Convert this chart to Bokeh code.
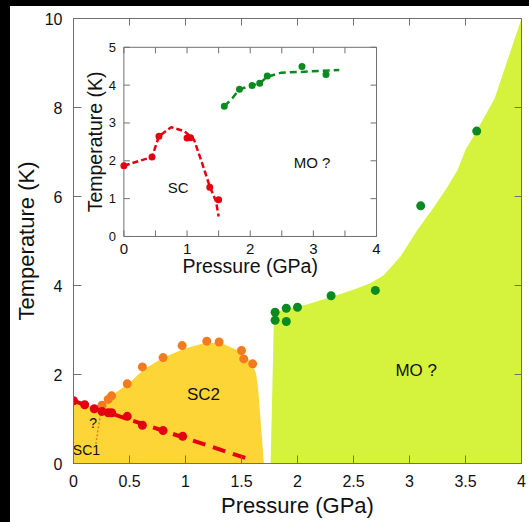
import math
from bokeh.plotting import figure
from bokeh.layouts import column, row
from bokeh.models import Range1d, LinearAxis, FixedTicker, Div
from bokeh.core.properties import value
from bokeh.embed import file_html
from bokeh.resources import INLINE

# ---------------- main panel data ----------------
sc1_p = [0.0, 0.10, 0.185, 0.254, 0.31, 0.34, 0.48, 0.615, 0.80, 0.975]
sc1_t = [1.41, 1.32, 1.23, 1.17, 1.14, 1.14, 1.06, 0.86, 0.74, 0.61]
sc2_p = [0.254, 0.31, 0.34, 0.48, 0.615, 0.80, 0.97, 1.19, 1.30, 1.50, 1.52, 1.60]
sc2_t = [1.31, 1.44, 1.52, 1.79, 2.17, 2.38, 2.65, 2.75, 2.73, 2.54, 2.35, 2.24]
mo_p = [1.80, 1.80, 1.90, 1.90, 2.00, 2.30, 2.695, 3.10, 3.60]
mo_t = [3.40, 3.22, 3.49, 3.19, 3.51, 3.77, 3.89, 5.79, 7.47]
sc1_line_p = [0.0, 0.10, 0.19, 0.26, 0.34, 1.60]
sc1_line_t = [1.41, 1.32, 1.23, 1.18, 1.12, 0.07]
sc_bound_p = [0.245, 0.20]
sc_bound_t = [1.19, 0.44]
sc_region_p = [0.0, 0.0, 0.10, 0.19, 0.25, 0.28, 0.34, 0.49, 0.635, 0.81, 0.99,
               1.17, 1.32, 1.47, 1.59, 1.63, 1.65, 1.70]
sc_region_t = [0.0, 1.41, 1.32, 1.24, 1.25, 1.34, 1.53, 1.79, 2.13, 2.39, 2.58,
               2.71, 2.71, 2.54, 2.28, 2.02, 1.64, 0.0]
mo_region_p = [1.76, 1.79, 1.81, 1.91, 2.09, 2.30, 2.48, 2.65, 2.77, 2.92, 3.07,
               3.22, 3.34, 3.43, 3.50, 3.59, 3.76, 4.00, 4.00]
mo_region_t = [0.0, 3.33, 3.41, 3.48, 3.58, 3.74, 3.89, 4.05, 4.23, 4.65, 5.25,
               5.77, 6.22, 6.60, 7.05, 7.43, 8.20, 10.0, 0.0]
x_ticks = [0, 0.5, 1, 1.5, 2, 2.5, 3, 3.5, 4]
x_tick_labels = ["0", "0.5", "1", "1.5", "2", "2.5", "3", "3.5", "4"]
y_ticks = [0, 2, 4, 6, 8, 10]
y_tick_labels = ["0", "2", "4", "6", "8", "10"]
main_labels = ["SC2", "MO ?"]
main_label_p = [1.16, 3.06]
main_label_t = [1.55, 2.08]
small_labels = ["?", "SC1"]
small_label_p = [0.175, 0.116]
small_label_t = [0.90, 0.30]

# ---------------- inset data ----------------
in_sc_p = [0.0, 0.445, 0.555, 1.00, 1.055, 1.36, 1.50]
in_sc_t = [1.87, 2.10, 2.65, 2.60, 2.61, 1.30, 0.97]
in_sc_line_p = [0.0, 0.445, 0.555, 0.75, 0.96, 1.11, 1.22, 1.36, 1.46, 1.50]
in_sc_line_t = [1.87, 2.10, 2.65, 2.89, 2.78, 2.56, 2.03, 1.32, 0.92, 0.53]
in_mo_p = [1.59, 1.83, 2.03, 2.15, 2.27, 2.82, 3.20]
in_mo_t = [3.44, 3.89, 3.99, 4.05, 4.24, 4.49, 4.28]
in_mo_line_p = [1.59, 1.72, 1.83, 2.03, 2.15, 2.27, 2.49, 2.80, 3.41]
in_mo_line_t = [3.44, 3.66, 3.89, 3.99, 4.05, 4.22, 4.33, 4.35, 4.40]
in_x_ticks = [0, 0.5, 1, 1.5, 2, 2.5, 3, 3.5, 4]
in_x_label_ticks = [0, 1, 2, 3, 4]
in_x_tick_labels = ["0", "1", "2", "3", "4"]
in_y_ticks = [0, 1, 2, 3, 4, 5]
in_y_tick_labels = ["0", "1", "2", "3", "4", "5"]
in_labels = ["SC", "MO ?"]
in_label_p = [0.86, 2.98]
in_label_t = [1.30, 1.96]

FONT = value("Liberation Sans")
GREY = "#707070"
RED = "#e30010"
ORANGE = "#f47a20"
GREEN = "#0b8a1f"
TXT = "#111111"

# layout (page pixels)
PAD_L, PAD_T = 10, 6
FRAME_L, FRAME_R, FRAME_T, FRAME_B = 72, 521, 19.3, 462.7
IN_L, IN_R, IN_T, IN_B = 122.5, 375.7, 48.0, 236.5
FIG_W, FIG_H = 529 - PAD_L, 522 - PAD_T

p = figure(width=FIG_W, height=FIG_H, x_range=Range1d(0, 4), y_range=Range1d(0, 10),
           output_backend="svg", toolbar_location=None,
           min_border_left=int(FRAME_L - PAD_L), min_border_right=int(PAD_L + FIG_W - FRAME_R),
           min_border_top=12,
           min_border_bottom=int(round(PAD_T + FIG_H - FRAME_B)))
p.grid.visible = False
p.background_fill_color = "white"
p.border_fill_color = "white"
p.outline_line_color = GREY
p.outline_line_width = 1

for ax, ticks, labels in ((p.xaxis[0], x_ticks, x_tick_labels), (p.yaxis[0], y_ticks, y_tick_labels)):
    ax.ticker = FixedTicker(ticks=ticks)
    ax.major_label_overrides = {t: l for t, l in zip(ticks, labels)}
    ax.major_tick_in = 8
    ax.major_tick_out = 0
    ax.minor_tick_in = 0
    ax.minor_tick_out = 0
    ax.major_tick_line_color = GREY
    ax.axis_line_color = GREY
    ax.major_label_text_font = "Liberation Sans"
    ax.major_label_text_font_size = "16px"
    ax.major_label_text_color = TXT
    ax.axis_label_text_font = "Liberation Sans"
    ax.axis_label_text_font_size = "22px"
    ax.axis_label_text_font_style = "normal"
    ax.axis_label_text_color = TXT
p.xaxis.axis_label = "Pressure (GPa)"
p.yaxis.axis_label = "Temperature (K)"
p.xaxis.major_label_standoff = 11
p.xaxis.axis_label_standoff = 3
p.yaxis.major_label_standoff = 11
p.yaxis.axis_label_standoff = 3

for side, ticks in (("above", x_ticks), ("right", y_ticks)):
    ax = LinearAxis(ticker=FixedTicker(ticks=ticks),
                    major_label_overrides={t: "" for t in ticks},
                    major_label_text_font_size="0px", major_label_standoff=0,
                    major_tick_in=7, major_tick_out=0, minor_tick_in=0, minor_tick_out=0,
                    major_tick_line_color=GREY, axis_line_color=GREY)
    p.add_layout(ax, side)

# phase regions
p.patch(sc_region_p, sc_region_t, fill_color="#fdd537", line_color=None)
p.patch(mo_region_p, mo_region_t, fill_color="#d5f33d", line_color=None)

# lines
p.line(sc_bound_p, sc_bound_t, line_color=ORANGE, line_width=1.5, line_dash="2 2")
p.line(sc1_line_p, sc1_line_t, line_color=RED, line_width=4, line_dash="13 8")

# points
p.scatter(sc2_p, sc2_t, size=9, fill_color=ORANGE, line_color=None)
p.scatter(sc1_p, sc1_t, size=9, fill_color=RED, line_color=None)
p.scatter(mo_p, mo_t, size=9, fill_color=GREEN, line_color=None)

p.text(main_label_p, main_label_t, text=main_labels, text_font=FONT,
       text_font_size=value("17px"), text_color=TXT, text_align="center", text_baseline="middle")
p.text(small_label_p, small_label_t, text=small_labels, text_font=FONT,
       text_font_size=value("14px"), text_color=TXT, text_align="center", text_baseline="middle")

# ---------------- inset drawn through extra ranges ----------------
sx = (IN_R - IN_L) / 4.0
sy = (IN_B - IN_T) / 5.0
p.extra_x_ranges = {"ix": Range1d(-(IN_L - FRAME_L) / sx, 4 + (FRAME_R - IN_R) / sx)}
p.extra_y_ranges = {"iy": Range1d(-(FRAME_B - IN_B) / sy, 5 + (IN_T - FRAME_T) / sy)}
R = dict(x_range_name="ix", y_range_name="iy")

p.quad(left=[0], right=[4], bottom=[0], top=[5], fill_color="white",
       line_color=GREY, line_width=1, **R)
tlx = 6 / sy
tly = 6 / sx
nx, ny = len(in_x_ticks), len(in_y_ticks)
p.segment(x0=in_x_ticks, y0=[0] * nx, x1=in_x_ticks, y1=[tlx] * nx, line_color=GREY, **R)
p.segment(x0=in_x_ticks, y0=[5] * nx, x1=in_x_ticks, y1=[5 - tlx] * nx, line_color=GREY, **R)
p.segment(x0=[0] * ny, y0=in_y_ticks, x1=[tly] * ny, y1=in_y_ticks, line_color=GREY, **R)
p.segment(x0=[4] * ny, y0=in_y_ticks, x1=[4 - tly] * ny, y1=in_y_ticks, line_color=GREY, **R)
p.text(in_x_label_ticks, [0] * len(in_x_label_ticks), text=in_x_tick_labels, y_offset=13,
       text_font=FONT, text_font_size=value("15px"), text_color=TXT,
       text_align="center", text_baseline="middle", **R)
p.text([0] * ny, in_y_ticks, text=in_y_tick_labels, x_offset=-8, text_font=FONT,
       text_font_size=value("13px"), text_color=TXT, text_align="right", text_baseline="middle", **R)
p.text([2], [0], text=["Pressure (GPa)"], y_offset=30, text_font=FONT,
       text_font_size=value("19.5px"), text_color=TXT, text_align="center", text_baseline="middle", **R)
p.text([0], [2.5], text=["Temperature (K)"], x_offset=-29, angle=math.pi / 2, text_font=FONT,
       text_font_size=value("19.5px"), text_color=TXT, text_align="center", text_baseline="middle", **R)

p.line(in_sc_line_p, in_sc_line_t, line_color=RED, line_width=2.5, line_dash="6 3", **R)
p.line(in_mo_line_p, in_mo_line_t, line_color=GREEN, line_width=2.5, line_dash="7 4", **R)
p.scatter(in_sc_p, in_sc_t, size=7, fill_color=RED, line_color=None, **R)
p.scatter(in_mo_p, in_mo_t, size=7, fill_color=GREEN, line_color=None, **R)
p.text(in_label_p, in_label_t, text=in_labels, text_font=FONT,
       text_font_size=value("15px"), text_color=TXT, text_align="center", text_baseline="middle", **R)

# black scan border of the original picture (top and left edges)
top_bar = Div(text="", width=529, height=PAD_T, margin=0, styles={"background-color": "black"})
left_bar = Div(text="", width=PAD_L, height=FIG_H, margin=0, styles={"background-color": "black"})
layout = column(top_bar, row(left_bar, p, spacing=0), spacing=0)

open("out.html", "w").write(file_html(layout, INLINE))
